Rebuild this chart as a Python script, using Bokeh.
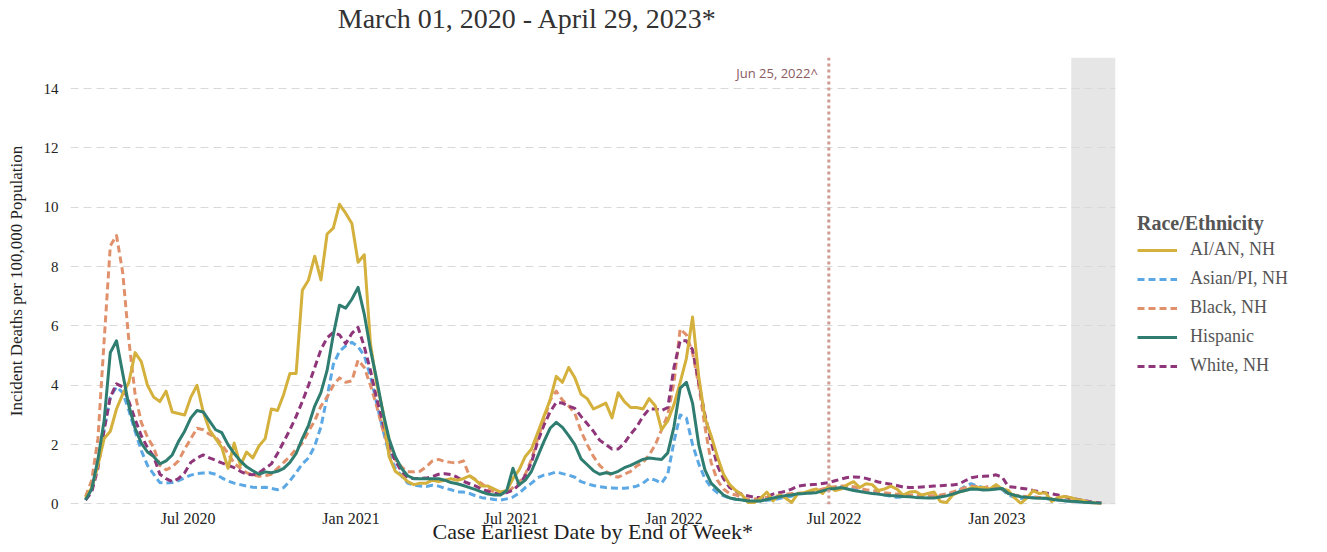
import pandas as pd
from bokeh.plotting import figure
from bokeh.layouts import column
from bokeh.models import (Range1d, FixedTicker, DatetimeTickFormatter, Span,
                          BoxAnnotation, Label, Legend, LegendItem)
from bokeh.embed import file_html
from bokeh.resources import INLINE

# ---------------- data (weekly, week ending dates) ----------------
week_start = "2020-03-07"

ai_an = [0.2, 0.55, 1.3, 2.2, 2.45, 3.2, 3.7, 4.1, 5.1, 4.8,
         4.0, 3.6, 3.45, 3.8, 3.1, 3.05, 3.0, 3.6, 4.0,
         3.1, 2.5, 2.2, 1.9, 1.2, 2.05, 1.3, 1.75, 1.55, 1.95,
         2.2, 3.2, 3.15, 3.7, 4.4, 4.4, 7.2, 7.55, 8.35, 7.55,
         9.1, 9.3, 10.1, 9.8, 9.45, 8.15, 8.4, 5.4, 4.05, 3.15,
         1.6, 1.1, 0.95, 0.75, 0.65, 0.7, 0.7, 0.8, 0.75,
         0.8, 0.85, 0.8, 0.85, 0.95, 0.8, 0.6, 0.6, 0.5, 0.4,
         0.45, 0.85, 1.15, 1.6, 1.85, 2.4, 2.95, 3.5, 4.3, 4.1,
         4.6, 4.25, 3.7, 3.55, 3.2, 3.3, 3.4, 2.9, 3.75,
         3.45, 3.25, 3.25, 3.2, 3.55, 3.3, 2.5, 2.8, 3.35, 4.1,
         4.9, 6.3, 4.3, 2.9, 2.3, 1.6, 1.0, 0.65, 0.45, 0.3,
         0.05, 0.05, 0.2, 0.4, 0.1, 0.3, 0.2, 0.05, 0.35,
         0.38, 0.45, 0.5, 0.35, 0.62, 0.45, 0.5, 0.65, 0.75, 0.55,
         0.68, 0.65, 0.45, 0.5, 0.6, 0.5, 0.3, 0.4, 0.42, 0.3,
         0.35, 0.4, 0.08, 0.05, 0.3, 0.4, 0.45, 0.55, 0.55, 0.55,
         0.5, 0.65, 0.5, 0.45, 0.2, 0.02, 0.2, 0.45, 0.35,
         0.38, 0.08, 0.22, 0.25, 0.22, 0.15, 0.12, 0.06, 0.03, 0.0]

asian_pi = [0.16, 0.5, 1.3, 2.5, 3.6, 3.95, 3.75, 3.15, 2.45, 1.8,
            1.3, 1.0, 0.72, 0.7, 0.72, 0.78, 0.88, 0.97, 1.02,
            1.04, 1.05, 1.0, 0.88, 0.77, 0.7, 0.65, 0.6, 0.56, 0.55,
            0.56, 0.52, 0.48, 0.55, 0.78, 1.05, 1.35, 1.55, 1.95, 2.6,
            3.6, 4.7, 5.15, 5.33, 5.45, 5.3, 5.0, 4.3, 3.4, 2.5,
            1.7, 1.2, 0.95, 0.7, 0.64, 0.6, 0.59, 0.63, 0.6,
            0.53, 0.48, 0.4, 0.4, 0.35, 0.27, 0.21, 0.18, 0.15, 0.13,
            0.17, 0.23, 0.36, 0.55, 0.7, 0.88, 0.97, 1.01, 1.08, 1.02,
            0.97, 0.9, 0.75, 0.68, 0.62, 0.58, 0.55, 0.54, 0.53,
            0.53, 0.55, 0.6, 0.7, 0.86, 0.8, 0.7, 1.0, 2.1, 3.0,
            2.9, 2.0, 1.35, 0.85, 0.55, 0.38, 0.27, 0.2, 0.16, 0.13,
            0.1, 0.1, 0.1, 0.12, 0.14, 0.18, 0.22, 0.26, 0.33,
            0.35, 0.37, 0.4, 0.45, 0.5, 0.55, 0.58, 0.55, 0.5, 0.46,
            0.42, 0.38, 0.34, 0.3, 0.26, 0.22, 0.24, 0.26, 0.25, 0.23,
            0.22, 0.24, 0.26, 0.3, 0.36, 0.45, 0.6, 0.68, 0.6, 0.55,
            0.52, 0.5, 0.48, 0.3, 0.22, 0.18, 0.2, 0.22, 0.2,
            0.18, 0.15, 0.13, 0.11, 0.09, 0.07, 0.06, 0.05, 0.03, 0.02]

black = [0.25, 0.8, 2.2, 5.5, 8.7, 9.05, 7.8, 5.5, 3.7, 2.75,
         2.25, 1.9, 1.3, 1.15, 1.25, 1.45, 1.85, 2.2, 2.55,
         2.5, 2.35, 2.25, 2.0, 1.7, 1.37, 1.2, 1.05, 0.98, 0.93,
         0.95, 1.0, 1.2, 1.4, 1.6, 1.85, 2.05, 2.45, 2.8, 3.3,
         3.6, 4.0, 4.25, 4.1, 4.15, 4.85, 4.6, 4.0, 3.3, 2.5,
         1.85, 1.5, 1.25, 1.08, 1.08, 1.1, 1.25, 1.45, 1.5,
         1.43, 1.4, 1.38, 1.45, 0.94, 0.82, 0.68, 0.5, 0.4, 0.35,
         0.37, 0.55, 0.72, 1.0, 1.5, 2.2, 2.8, 3.5, 3.8, 3.5,
         3.3, 3.05, 2.45, 2.0, 1.6, 1.3, 1.1, 0.95, 0.9,
         1.0, 1.1, 1.28, 1.4, 1.65, 2.0, 2.5, 3.0, 4.1, 5.9,
         5.7, 5.1, 4.0, 2.6, 1.4, 0.8, 0.5, 0.35, 0.3, 0.22,
         0.16, 0.17, 0.2, 0.22, 0.24, 0.28, 0.32, 0.35, 0.36,
         0.37, 0.4, 0.45, 0.5, 0.55, 0.58, 0.6, 0.6, 0.58, 0.52,
         0.48, 0.45, 0.42, 0.38, 0.35, 0.33, 0.32, 0.3, 0.3, 0.28,
         0.27, 0.28, 0.3, 0.34, 0.4, 0.48, 0.55, 0.6, 0.58, 0.55,
         0.6, 0.55, 0.5, 0.35, 0.3, 0.27, 0.25, 0.24, 0.22,
         0.2, 0.18, 0.15, 0.13, 0.11, 0.09, 0.07, 0.05, 0.03, 0.02]

hispanic = [0.13, 0.5, 1.5, 2.8, 5.1, 5.5, 4.4, 3.3, 2.55, 2.05,
            1.75, 1.6, 1.35, 1.45, 1.65, 2.1, 2.45, 2.9, 3.15,
            3.1, 2.8, 2.5, 2.4, 2.0, 1.7, 1.45, 1.25, 1.12, 1.0,
            1.08, 1.05, 1.1, 1.2, 1.4, 1.7, 2.2, 2.65, 3.3, 3.75,
            4.5, 5.7, 6.7, 6.6, 6.9, 7.3, 6.4, 5.2, 4.2, 3.1,
            2.2, 1.6, 1.2, 0.95, 0.85, 0.85, 0.85, 0.85, 0.85,
            0.8, 0.72, 0.68, 0.62, 0.55, 0.48, 0.4, 0.33, 0.3, 0.3,
            0.45, 1.2, 0.64, 0.8, 1.1, 1.6, 2.1, 2.55, 2.75, 2.58,
            2.3, 2.0, 1.52, 1.32, 1.12, 1.0, 1.05, 1.02, 1.1,
            1.22, 1.3, 1.4, 1.5, 1.55, 1.52, 1.5, 1.72, 2.6, 3.9,
            4.1, 3.4, 2.0, 1.15, 0.7, 0.5, 0.3, 0.2, 0.16, 0.13,
            0.1, 0.1, 0.1, 0.15, 0.2, 0.24, 0.28, 0.3, 0.34,
            0.35, 0.37, 0.38, 0.44, 0.5, 0.52, 0.55, 0.5, 0.45, 0.42,
            0.38, 0.35, 0.33, 0.3, 0.28, 0.27, 0.25, 0.24, 0.22, 0.21,
            0.2, 0.2, 0.23, 0.27, 0.33, 0.4, 0.45, 0.5, 0.49, 0.47,
            0.48, 0.5, 0.52, 0.35, 0.29, 0.24, 0.22, 0.2, 0.19,
            0.19, 0.16, 0.13, 0.11, 0.09, 0.08, 0.06, 0.05, 0.03, 0.02]

white = [0.13, 0.4, 1.2, 2.5, 3.6, 4.05, 3.95, 3.45, 2.85, 2.3,
         1.9, 1.6, 1.0, 0.85, 0.75, 0.85, 1.05, 1.4, 1.55,
         1.65, 1.55, 1.47, 1.38, 1.3, 1.22, 1.1, 1.0, 0.98, 1.05,
         1.2, 1.35, 1.7, 2.1, 2.5, 2.95, 3.45, 4.0, 4.6, 5.2,
         5.6, 5.78, 5.7, 5.4, 5.75, 5.95, 5.3, 4.5, 3.55, 2.75,
         1.95, 1.45, 1.1, 0.88, 0.86, 0.86, 0.87, 0.92, 1.0,
         1.02, 0.99, 0.9, 0.76, 0.68, 0.6, 0.5, 0.42, 0.36, 0.33,
         0.38, 0.46, 0.65, 0.95, 1.4, 2.1, 2.65, 3.1, 3.42, 3.4,
         3.3, 3.22, 2.95, 2.7, 2.45, 2.15, 2.0, 1.85, 1.85,
         2.05, 2.35, 2.6, 2.95, 3.2, 3.2, 3.15, 3.25, 4.6, 5.5,
         5.5, 5.2, 4.1, 3.0, 2.1, 1.3, 0.85, 0.55, 0.42, 0.32,
         0.27, 0.22, 0.22, 0.25, 0.33, 0.38, 0.42, 0.5, 0.6,
         0.63, 0.65, 0.66, 0.69, 0.72, 0.78, 0.84, 0.89, 0.91, 0.9,
         0.86, 0.8, 0.74, 0.7, 0.66, 0.62, 0.57, 0.55, 0.56, 0.57,
         0.58, 0.6, 0.61, 0.63, 0.64, 0.67, 0.78, 0.88, 0.92, 0.93,
         0.94, 0.98, 0.9, 0.58, 0.56, 0.53, 0.5, 0.45, 0.41,
         0.37, 0.34, 0.3, 0.25, 0.2, 0.16, 0.12, 0.08, 0.05, 0.02]

series_names = ["AI/AN, NH", "Asian/PI, NH", "Black, NH", "Hispanic", "White, NH"]
x_tick_dates = ["2020-07-01", "2021-01-01", "2021-07-01", "2022-01-01", "2022-07-01", "2023-01-01"]
y_ticks = [0, 2, 4, 6, 8, 10, 12, 14]
x_start, x_end = "2020-02-19", "2023-05-15"
marker_date = "2022-06-25"
marker_text = "Jun 25, 2022^"
incomplete_start = "2023-03-26"
title_text = "March 01, 2020 - April 29, 2023*"
x_label = "Case Earliest Date by End of Week*"
y_label = "Incident Deaths per 100,000 Population"
legend_title = "Race/Ethnicity"


def ms(d):
    return pd.Timestamp(d).value / 1e6


SERIF = "Liberation Serif"
FRAME_W = 1045
HEAD_H = 40

# ---------------- heading strip (title); its frame aligns with the chart frame ----------------
head = figure(frame_width=FRAME_W, frame_height=HEAD_H,
              x_range=Range1d(0, FRAME_W), y_range=Range1d(0, HEAD_H),
              x_axis_location=None, y_axis_location=None,
              output_backend="svg", toolbar_location=None, min_border=0)
head.grid.visible = False
head.outline_line_color = None
head.add_layout(Label(x=457, y=HEAD_H - 18, text=title_text, text_align="center",
                      text_baseline="middle", text_font=SERIF,
                      text_font_size="28px", text_color="#333333"))

# ---------------- main chart ----------------
p = figure(frame_width=FRAME_W, frame_height=447, x_axis_type="datetime",
           x_range=Range1d(ms(x_start), ms(x_end)),
           y_range=Range1d(-0.02, 15.05),
           output_backend="svg", toolbar_location=None,
           min_border_left=70, min_border_right=200,
           min_border_top=57 - HEAD_H, min_border_bottom=38)
p.outline_line_color = None
p.background_fill_color = "white"
p.border_fill_color = "white"

# grey "incomplete" band
p.add_layout(BoxAnnotation(left=ms(incomplete_start), fill_color="#e6e6e6",
                           fill_alpha=1.0, line_color=None, level="image"))

# grid
p.xgrid.grid_line_color = None
p.ygrid.ticker = FixedTicker(ticks=y_ticks)
p.ygrid.grid_line_color = "#d9d9d9"
p.ygrid.grid_line_dash = "8 5"
p.ygrid.grid_line_width = 1

# axes
p.yaxis.ticker = FixedTicker(ticks=y_ticks)
p.xaxis.ticker = FixedTicker(ticks=[ms(d) for d in x_tick_dates])
fmt = "%b %Y"
p.xaxis.formatter = DatetimeTickFormatter(days=fmt, months=fmt, years=fmt, hours=fmt)
for ax in (p.xaxis[0], p.yaxis[0]):
    ax.axis_line_color = None
    ax.major_tick_line_color = None
    ax.minor_tick_line_color = None
    ax.major_tick_out = 0
    ax.major_tick_in = 0
    ax.major_label_text_font = SERIF
    ax.major_label_text_color = "#222222"
    ax.axis_label_text_font = SERIF
    ax.axis_label_text_font_style = "normal"
    ax.axis_label_text_color = "#222222"
p.xaxis.major_label_text_font_size = "16px"
p.xaxis.major_label_standoff = 5
p.xaxis.axis_label = x_label
p.xaxis.axis_label_text_font_size = "22px"
p.xaxis.axis_label_standoff = -11
p.yaxis.major_label_text_font_size = "15px"
p.yaxis.major_label_standoff = 12
p.yaxis.axis_label = y_label
p.yaxis.axis_label_text_font_size = "17px"
p.yaxis.axis_label_standoff = 15

# lines
styles = {
    "AI/AN, NH": dict(color="#d4b03c", dash="solid"),
    "Asian/PI, NH": dict(color="#5ba8e4", dash="7 4"),
    "Black, NH": dict(color="#e0916b", dash="7 4"),
    "Hispanic": dict(color="#2f7d70", dash="solid"),
    "White, NH": dict(color="#8f357a", dash="7 4"),
}
values = {"AI/AN, NH": ai_an, "Asian/PI, NH": asian_pi, "Black, NH": black,
          "Hispanic": hispanic, "White, NH": white}
renderers = {}
for name in ["Asian/PI, NH", "Black, NH", "White, NH", "AI/AN, NH", "Hispanic"]:
    vals = values[name]
    xs = pd.date_range(week_start, periods=len(vals), freq="7D")
    st = styles[name]
    renderers[name] = p.line(xs, vals, line_color=st["color"], line_width=3,
                             line_dash=st["dash"], line_join="round")

# marker line
p.add_layout(Span(location=ms(marker_date), dimension="height",
                  line_color="#cf9b91", line_width=3, line_dash="3 3"))
p.add_layout(Label(x=ms(marker_date), y=432, x_units="data", y_units="screen",
                   x_offset=-11, text=marker_text, text_align="right",
                   text_baseline="middle", text_font="Open Sans",
                   text_font_size="13px", text_color="#8a5a5f"))

# legend (right panel)
legend = Legend(items=[LegendItem(label=n, renderers=[renderers[n]]) for n in series_names],
                location=(22, 128), title=legend_title,
                title_text_font=SERIF, title_text_font_style="bold",
                title_text_font_size="20px", title_text_color="#555555",
                title_standoff=4,
                label_text_font=SERIF, label_text_font_size="18px",
                label_text_color="#555555",
                glyph_width=40, glyph_height=20, label_height=20,
                label_standoff=13, spacing=8, padding=0, margin=0,
                border_line_color=None, background_fill_alpha=0)
p.add_layout(legend, "right")

layout = column(head, p, spacing=0)

with open("out.html", "w") as f:
    f.write(file_html(layout, INLINE))
